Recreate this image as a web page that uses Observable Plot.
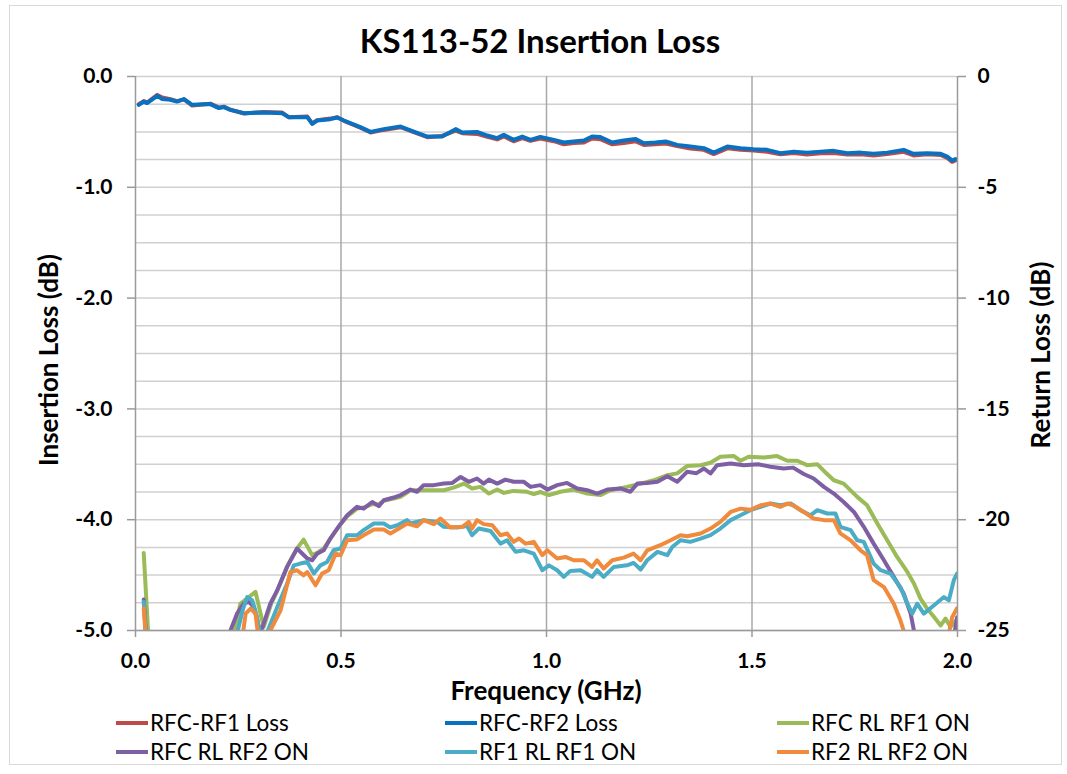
<!DOCTYPE html>
<html><head><meta charset="utf-8">
<script src="https://cdn.jsdelivr.net/npm/d3@7"></script>
<script src="https://cdn.jsdelivr.net/npm/@observablehq/plot@0.6"></script>
<style>
  body { margin:0; background:#fff; font-family: Lato, "Open Sans", sans-serif; color:#000; }
  #frame { position:absolute; left:9px; top:5px; width:1051px; height:758px; border:1px solid #d9d9d9; }
  #title { position:absolute; left:0; top:24px; width:1080px; text-align:center; font-weight:bold; font-size:33px; line-height:33px; }
  #chart { position:absolute; left:0; top:60px; }
  .axlabel { position:absolute; font-weight:bold; font-size:26px; white-space:nowrap; transform:translate(-50%,-50%); line-height:28px; }
  .rot { transform:translate(-50%,-50%) rotate(-90deg); }
  .leg { position:absolute; display:flex; align-items:center; font-size:22.5px; line-height:26px; white-space:nowrap; }
  .sw { width:32px; height:4px; margin-right:2px; }
</style>
</head><body>
<div id="frame"></div>
<div id="title"></div>
<div id="chart"></div>
<div id="xlab" class="axlabel" style="left:546px;top:690px"></div>
<div id="ylab" class="axlabel rot" style="left:48px;top:360px"></div>
<div id="y2lab" class="axlabel rot" style="left:1040px;top:355px"></div>
<div id="legend"></div>
<script>
const titleText = "KS113-52 Insertion Loss";
const xLabel = "Frequency (GHz)";
const yLabel = "Insertion Loss (dB)";
const y2Label = "Return Loss (dB)";

const xTicks = [0, 0.5, 1.0, 1.5, 2.0];
const leftTicks = [0, -1, -2, -3, -4, -5];
const rightTicks = [0, -5, -10, -15, -20, -25];

const seriesNames = ["RFC-RF1 Loss", "RFC-RF2 Loss", "RFC RL RF1 ON", "RFC RL RF2 ON", "RF1 RL RF1 ON", "RF2 RL RF2 ON"];
const seriesColors = ["#BE4B48", "#0A70C0", "#9BBB59", "#7F5FA4", "#4BACC6", "#F08A3C"];

// Insertion loss (dB, left axis)
const lossFreq = [0.008,0.020,0.028,0.053,0.065,0.085,0.101,0.118,0.138,0.182,0.203,0.215,0.231,0.264,0.312,0.357,0.373,0.418,0.430,0.442,0.474,0.491,0.507,0.547,0.572,0.604,0.645,0.677,0.710,0.746,0.779,0.795,0.831,0.856,0.880,0.896,0.920,0.941,0.961,0.985,1.018,1.042,1.066,1.091,1.111,1.131,1.160,1.188,1.217,1.237,1.265,1.290,1.318,1.350,1.383,1.407,1.440,1.472,1.504,1.537,1.569,1.602,1.634,1.667,1.699,1.732,1.764,1.796,1.829,1.869,1.893,1.926,1.959,1.975,1.987,1.995];
const rfcRf2Loss = [-0.256,-0.226,-0.240,-0.174,-0.204,-0.210,-0.226,-0.204,-0.256,-0.249,-0.285,-0.276,-0.301,-0.331,-0.325,-0.331,-0.367,-0.367,-0.427,-0.397,-0.385,-0.370,-0.397,-0.457,-0.500,-0.475,-0.452,-0.497,-0.542,-0.542,-0.475,-0.506,-0.500,-0.533,-0.556,-0.527,-0.572,-0.542,-0.572,-0.545,-0.572,-0.596,-0.587,-0.578,-0.542,-0.547,-0.596,-0.578,-0.565,-0.602,-0.596,-0.587,-0.617,-0.632,-0.647,-0.687,-0.632,-0.647,-0.656,-0.662,-0.692,-0.678,-0.687,-0.678,-0.671,-0.692,-0.687,-0.698,-0.687,-0.662,-0.698,-0.692,-0.698,-0.723,-0.759,-0.746];
const rfcRf1Loss = [-0.250,-0.222,-0.236,-0.166,-0.190,-0.205,-0.222,-0.206,-0.262,-0.245,-0.281,-0.272,-0.300,-0.334,-0.320,-0.326,-0.368,-0.362,-0.425,-0.394,-0.380,-0.368,-0.400,-0.462,-0.505,-0.482,-0.458,-0.503,-0.548,-0.536,-0.488,-0.512,-0.518,-0.545,-0.568,-0.540,-0.585,-0.556,-0.580,-0.560,-0.584,-0.612,-0.600,-0.596,-0.560,-0.566,-0.612,-0.600,-0.585,-0.618,-0.612,-0.605,-0.628,-0.650,-0.662,-0.700,-0.648,-0.662,-0.668,-0.680,-0.702,-0.690,-0.705,-0.692,-0.690,-0.705,-0.702,-0.712,-0.700,-0.680,-0.712,-0.702,-0.708,-0.735,-0.770,-0.758];

// Return loss (dB, right axis)
const rfcRlRf1Freq = [0.020,0.035,0.100,0.200,0.235,0.255,0.275,0.292,0.312,0.330,0.345,0.369,0.393,0.409,0.430,0.442,0.458,0.474,0.495,0.515,0.539,0.555,0.576,0.592,0.604,0.628,0.645,0.669,0.701,0.750,0.774,0.799,0.819,0.839,0.860,0.880,0.896,0.920,0.953,0.969,0.985,1.006,1.034,1.066,1.099,1.131,1.156,1.196,1.229,1.261,1.294,1.318,1.342,1.375,1.399,1.423,1.456,1.472,1.492,1.529,1.561,1.586,1.610,1.634,1.659,1.675,1.699,1.723,1.756,1.780,1.805,1.829,1.853,1.878,1.894,1.910,1.926,1.943,1.959,1.971,1.983,1.999];
const rfcRlRf1 = [-21.5,-26.5,-28,-27.5,-25.6,-23.8,-23.5,-23.26,-24.84,-23.8,-23.2,-22.1,-21.3,-20.9,-21.6,-21.5,-21.3,-20.85,-20.3,-19.85,-19.5,-19.45,-19.3,-19.3,-19.15,-19.05,-18.97,-18.67,-18.67,-18.67,-18.55,-18.37,-18.59,-18.52,-18.82,-18.64,-18.79,-18.70,-18.74,-18.85,-18.75,-18.89,-18.74,-18.64,-18.82,-18.89,-18.67,-18.52,-18.37,-18.22,-17.99,-17.91,-17.58,-17.54,-17.43,-17.16,-17.13,-17.34,-17.16,-17.19,-17.13,-17.34,-17.34,-17.54,-17.50,-17.80,-18.22,-18.37,-18.97,-19.35,-20.17,-20.93,-21.68,-22.36,-22.88,-23.56,-24.01,-24.39,-24.77,-24.46,-24.84,-24.5];

const rfcRlRf2Freq = [0.020,0.030,0.100,0.200,0.231,0.247,0.263,0.276,0.288,0.300,0.308,0.328,0.345,0.369,0.393,0.418,0.430,0.442,0.458,0.474,0.495,0.515,0.539,0.555,0.576,0.592,0.604,0.628,0.645,0.669,0.685,0.701,0.726,0.750,0.771,0.791,0.811,0.831,0.847,0.860,0.880,0.900,0.920,0.945,0.961,0.985,1.002,1.026,1.050,1.075,1.099,1.123,1.148,1.180,1.204,1.221,1.245,1.270,1.294,1.318,1.342,1.365,1.383,1.399,1.415,1.448,1.480,1.515,1.545,1.577,1.600,1.626,1.650,1.675,1.699,1.723,1.748,1.772,1.796,1.821,1.845,1.869,1.886,1.894,1.910,1.960,1.987,1.999];
const rfcRlRf2 = [-23.6,-26.5,-28,-27.5,-25.0,-24.24,-23.79,-23.71,-23.94,-24.84,-24.9,-23.79,-23.18,-22.13,-21.30,-21.75,-21.83,-21.53,-21.38,-20.85,-20.29,-19.80,-19.42,-19.50,-19.20,-19.39,-19.12,-19.00,-18.89,-18.64,-18.74,-18.44,-18.44,-18.37,-18.34,-18.07,-18.29,-18.14,-18.37,-18.19,-18.37,-18.19,-18.29,-18.29,-18.52,-18.44,-18.64,-18.44,-18.34,-18.59,-18.67,-18.82,-18.64,-18.59,-18.74,-18.37,-18.34,-18.29,-18.04,-18.29,-17.84,-17.90,-17.69,-17.91,-17.54,-17.46,-17.54,-17.50,-17.61,-17.69,-17.65,-17.94,-18.14,-18.52,-18.82,-19.20,-19.65,-20.32,-21.08,-21.83,-22.58,-23.33,-24.24,-25.0,-26.5,-27.0,-25.8,-24.4];

const rf1RlRf1Freq = [0.020,0.030,0.100,0.200,0.245,0.262,0.272,0.284,0.296,0.304,0.315,0.322,0.345,0.369,0.385,0.401,0.418,0.434,0.450,0.466,0.482,0.499,0.515,0.539,0.555,0.580,0.604,0.620,0.637,0.661,0.669,0.701,0.734,0.750,0.783,0.807,0.819,0.835,0.864,0.888,0.904,0.925,0.945,0.969,0.990,1.006,1.026,1.042,1.058,1.083,1.111,1.123,1.139,1.164,1.196,1.212,1.229,1.245,1.270,1.294,1.306,1.326,1.350,1.375,1.399,1.423,1.448,1.472,1.496,1.521,1.545,1.569,1.594,1.618,1.642,1.659,1.683,1.703,1.715,1.740,1.756,1.772,1.796,1.813,1.837,1.861,1.878,1.890,1.902,1.918,1.943,1.967,1.979,1.991,1.999];
const rf1RlRf1 = [-23.7,-26.5,-28,-27.5,-25.3,-24.0,-23.49,-23.64,-24.39,-25.3,-25.5,-25.0,-23.94,-22.88,-22.06,-21.98,-21.91,-22.43,-22.06,-21.91,-21.38,-21.30,-20.70,-20.70,-20.47,-20.17,-20.17,-20.35,-20.25,-20.02,-20.17,-20.02,-20.10,-20.32,-20.35,-20.29,-20.70,-20.40,-20.51,-21.08,-20.93,-21.45,-21.38,-21.53,-22.28,-22.06,-22.28,-22.58,-22.31,-22.28,-22.58,-22.28,-22.58,-22.13,-22.06,-21.95,-22.25,-21.83,-21.45,-21.60,-21.23,-20.93,-21.00,-20.85,-20.70,-20.40,-20.02,-19.80,-19.57,-19.42,-19.27,-19.35,-19.27,-19.57,-19.80,-19.57,-19.72,-19.72,-20.32,-20.47,-20.93,-21.00,-21.98,-22.28,-22.43,-23.04,-23.79,-24.24,-23.79,-24.24,-23.86,-23.49,-23.64,-22.73,-22.43];

const rf2RlRf2Freq = [0.020,0.030,0.100,0.200,0.258,0.268,0.280,0.292,0.297,0.305,0.318,0.328,0.353,0.377,0.393,0.409,0.418,0.438,0.454,0.470,0.487,0.499,0.515,0.539,0.555,0.580,0.604,0.620,0.637,0.661,0.685,0.701,0.726,0.742,0.766,0.795,0.811,0.819,0.831,0.847,0.868,0.888,0.904,0.920,0.933,0.949,0.969,0.990,1.002,1.026,1.046,1.066,1.091,1.111,1.123,1.139,1.160,1.188,1.212,1.229,1.245,1.277,1.302,1.326,1.342,1.375,1.399,1.423,1.448,1.472,1.496,1.521,1.545,1.569,1.586,1.600,1.626,1.650,1.675,1.699,1.715,1.740,1.764,1.780,1.796,1.821,1.845,1.861,1.869,1.890,1.960,1.975,1.987,1.999];
const rf2RlRf2 = [-24.0,-26.5,-28,-27.5,-25.6,-24.24,-24.01,-24.24,-25.0,-26.0,-25.8,-25.0,-24.09,-22.36,-22.28,-22.51,-22.36,-22.96,-22.43,-22.28,-21.53,-21.60,-20.93,-20.89,-20.70,-20.44,-20.44,-20.62,-20.44,-20.17,-20.30,-20.02,-20.20,-19.95,-20.35,-20.32,-20.10,-20.40,-20.02,-20.20,-20.25,-20.70,-20.62,-21.00,-20.85,-21.08,-21.00,-21.60,-21.38,-21.75,-21.68,-21.83,-21.83,-22.13,-21.83,-22.20,-21.83,-21.71,-21.53,-21.83,-21.38,-21.15,-20.93,-20.70,-20.75,-20.62,-20.40,-20.10,-19.65,-19.50,-19.55,-19.35,-19.27,-19.42,-19.27,-19.35,-19.65,-19.95,-20.02,-20.02,-20.62,-20.93,-21.38,-21.60,-22.73,-23.04,-23.79,-24.54,-25.0,-26.5,-27.0,-25.5,-24.4,-24.0];

// ---- build ----
const zip = (fs, vs) => fs.map((f, i) => ({f, v: vs[i]}));
const lossSeries = [
  {data: zip(lossFreq, rfcRf1Loss), color: seriesColors[0]},
  {data: zip(lossFreq, rfcRf2Loss), color: seriesColors[1]}
];
const rlSeries = [
  {data: zip(rfcRlRf1Freq, rfcRlRf1), color: seriesColors[2]},
  {data: zip(rfcRlRf2Freq, rfcRlRf2), color: seriesColors[3]},
  {data: zip(rf1RlRf1Freq, rf1RlRf1), color: seriesColors[4]},
  {data: zip(rf2RlRf2Freq, rf2RlRf2), color: seriesColors[5]}
];
const rlScale = rightTicks[5] / leftTicks[5]; // 5 dB RL per 1 dB IL

const yGrid = d3.range(0, -5.001, -0.25);
const xGrid = [0.5, 1.0, 1.5];
const tickFont = 21;

const plot = Plot.plot({
  width: 1067,
  height: 650,
  marginLeft: 135,
  marginRight: 110,
  marginTop: 16,
  marginBottom: 80,
  style: {fontFamily: "Lato, 'Open Sans', sans-serif", color: "#000", background: "transparent", overflow: "visible"},
  x: {domain: [0, 2]},
  y: {domain: [-5, 0]},
  marks: [
    Plot.ruleY(yGrid, {stroke: "#d0d0d0", strokeWidth: 1.5}),
    Plot.ruleX(xGrid, {stroke: "#a8a8a8", strokeWidth: 1.5}),
    ...lossSeries.map(s => Plot.line(s.data, {x: "f", y: "v", stroke: s.color, strokeWidth: 4, clip: true})),
    ...rlSeries.map(s => Plot.line(s.data, {x: "f", y: d => d.v / rlScale, stroke: s.color, strokeWidth: 4, clip: true})),
    Plot.ruleX([0, 2], {stroke: "#9a9a9a", strokeWidth: 1.5}),
    Plot.ruleY([-5], {stroke: "#9a9a9a", strokeWidth: 1.5}),
    Plot.axisX({ticks: xTicks, tickFormat: d => d.toFixed(1), tickSize: 7, tickPadding: 16, fontSize: tickFont, fontWeight: "bold", stroke: "#9a9a9a", strokeWidth: 1.5, fill: "#000", label: null}),
    Plot.axisY({anchor: "left", ticks: leftTicks, tickFormat: d => d.toFixed(1), tickSize: 8, tickPadding: 15, fontSize: tickFont, fontWeight: "bold", stroke: "#9a9a9a", strokeWidth: 1.5, fill: "#000", label: null}),
    Plot.axisY({anchor: "right", ticks: rightTicks.map(v => v / rlScale), tickFormat: d => String(Math.round(d * rlScale)), tickSize: 8, tickPadding: 12, fontSize: tickFont, fontWeight: "bold", stroke: "#9a9a9a", strokeWidth: 1.5, fill: "#000", label: null})
  ]
});
document.getElementById("chart").appendChild(plot);

document.getElementById("title").textContent = titleText;
document.getElementById("xlab").textContent = xLabel;
document.getElementById("ylab").textContent = yLabel;
document.getElementById("y2lab").textContent = y2Label;

// legend: 3 columns x 2 rows
const legCols = [116, 445, 777];
const legRows = [710, 739];
const legend = document.getElementById("legend");
seriesNames.forEach((name, i) => {
  const d = document.createElement("div");
  d.className = "leg";
  d.style.left = legCols[i % 3] + "px";
  d.style.top = legRows[Math.floor(i / 3)] + "px";
  const sw = document.createElement("span");
  sw.className = "sw";
  sw.style.background = seriesColors[i];
  const t = document.createElement("span");
  t.textContent = name;
  d.appendChild(sw); d.appendChild(t);
  legend.appendChild(d);
});
</script>
</body></html>
